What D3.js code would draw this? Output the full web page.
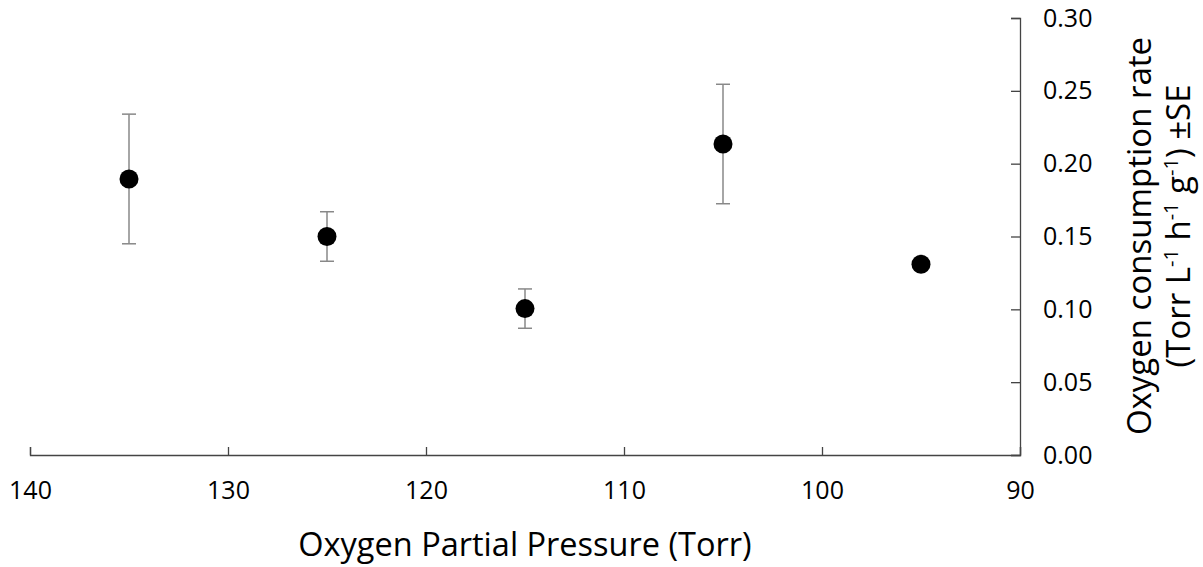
<!DOCTYPE html>
<html>
<head>
<meta charset="utf-8">
<script src="https://cdn.jsdelivr.net/npm/d3@7"></script>
<style>
  body { margin: 0; background: #fff; }
  svg text { font-family: "Open Sans", Lato, sans-serif; fill: #000; }
</style>
</head>
<body>
<div class="container"></div>
<script>
const w = 1203;
const h = 567;

const pressure = [135, 125, 115, 105, 95];
const rate = [0.1895, 0.15, 0.1005, 0.2135, 0.131];
const se = [0.0445, 0.017, 0.0135, 0.041, 0];
const xTicks = [140, 130, 120, 110, 100, 90];
const yTicks = [0, 0.05, 0.1, 0.15, 0.2, 0.25, 0.3];

const plotLeft = 30, plotRight = 1020, plotTop = 18, plotBottom = 455;

const svg = d3.select('.container').append('svg')
  .attr('width', w).attr('height', h);

const x = d3.scaleLinear().domain([140, 90]).range([plotLeft, plotRight]);
const y = d3.scaleLinear().domain([0, 0.3]).range([plotBottom, plotTop]);

// x axis, ticks pointing up
const xAxis = svg.append('g')
  .attr('transform', `translate(0,${plotBottom})`)
  .call(d3.axisBottom(x).tickValues(xTicks).tickSizeInner(-8).tickSizeOuter(-8).tickPadding(26).tickFormat(d3.format('d')));
xAxis.selectAll('text').attr('font-size', 25);

// y axis on right, ticks pointing left
const yAxis = svg.append('g')
  .attr('transform', `translate(${plotRight},0)`)
  .call(d3.axisRight(y).tickValues(yTicks).tickSizeInner(-9).tickSizeOuter(-9).tickPadding(23).tickFormat(d3.format('.2f')));
yAxis.selectAll('text').attr('font-size', 25);

svg.selectAll('.domain, .tick line').attr('stroke', '#444').attr('stroke-width', 1.3);

const pts = pressure.map((p, i) => ({ p, v: rate[i], e: se[i] }));

// error bars
const eb = svg.append('g').attr('stroke', '#888').attr('stroke-width', 1.5);
pts.filter(d => d.e > 0).forEach(d => {
  eb.append('line').attr('x1', x(d.p)).attr('x2', x(d.p))
    .attr('y1', y(d.v - d.e)).attr('y2', y(d.v + d.e));
  [d.v - d.e, d.v + d.e].forEach(v => {
    eb.append('line').attr('x1', x(d.p) - 7).attr('x2', x(d.p) + 7)
      .attr('y1', y(v)).attr('y2', y(v));
  });
});

svg.append('g').selectAll('circle').data(pts).enter().append('circle')
  .attr('cx', d => x(d.p)).attr('cy', d => y(d.v)).attr('r', 9.5).attr('fill', '#000');

svg.append('text').attr('x', 525).attr('y', 556).attr('text-anchor', 'middle')
  .attr('font-size', 32.5).text('Oxygen Partial Pressure (Torr)');

const yl = svg.append('text').attr('transform', 'translate(1151,236) rotate(-90)')
  .attr('text-anchor', 'middle').attr('font-size', 33);
yl.append('tspan').attr('x', 0).attr('y', 0).text('Oxygen consumption rate');
const l2 = svg.append('text').attr('transform', 'translate(1190,226) rotate(-90)')
  .attr('text-anchor', 'middle').attr('font-size', 33);
l2.append('tspan').text('(Torr L');
l2.append('tspan').attr('dy', -12).attr('font-size', 20).text('-1');
l2.append('tspan').attr('dy', 12).text(' h');
l2.append('tspan').attr('dy', -12).attr('font-size', 20).text('-1');
l2.append('tspan').attr('dy', 12).text(' g');
l2.append('tspan').attr('dy', -12).attr('font-size', 20).text('-1');
l2.append('tspan').attr('dy', 12).text(') ±SE');
</script>
</body>
</html>
